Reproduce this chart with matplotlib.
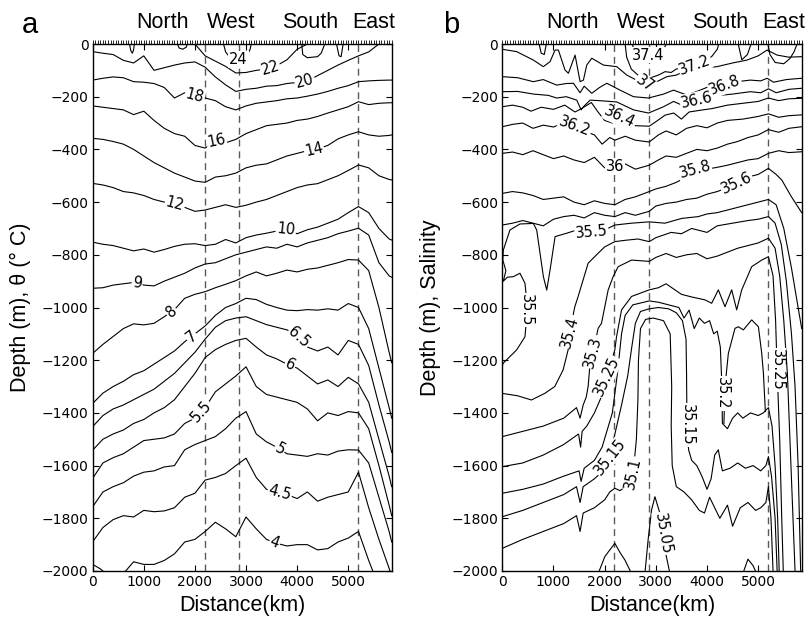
import numpy as np
import matplotlib
matplotlib.use("Agg")
import matplotlib.pyplot as plt
from matplotlib.transforms import blended_transform_factory

plt.rcParams["font.family"] = ["Liberation Sans", "DejaVu Sans"]

nan = np.nan

# ---------------- panel a: potential temperature (depth of each isotherm) ----------------
dist_a = [0, 200, 400, 600, 800, 1000, 1200, 1400, 1600, 1800, 2000, 2200, 2400, 2600, 2800,
          3000, 3200, 3400, 3600, 3800, 4000, 4200, 4400, 4600, 4800, 5000, 5200, 5400, 5600,
          5800, 5850]

theta_22 = [nan, nan, nan, nan, nan, nan, nan, nan, nan, nan, 0, -45, -65, -85, -110, -108, -100,
            -95, -82, -60, -20, 0, nan, nan, nan, nan, nan, nan, nan, nan, nan]
theta_20 = [-29, -35, -40, -62, -72, -45, -100, -90, -80, -72, -68, -88, -125, -155, -180, -172,
            -168, -160, -158, -150, -146, -140, -120, -100, -80, -62, -45, -30, 0, nan, nan]
theta_18 = [-137, -130, -125, -128, -143, -145, -150, -165, -205, -185, -196, -205, -215, -238,
            -250, -235, -225, -220, -215, -208, -205, -198, -190, -180, -168, -158, -143, -140,
            -138, -137, -137]
theta_16 = [-235, -240, -245, -250, -268, -255, -290, -320, -340, -350, -385, -395, -366, -375,
            -362, -340, -325, -310, -305, -300, -290, -285, -275, -262, -250, -238, -219, -230,
            -225, -223, -223]
theta_14 = [-358, -362, -370, -380, -400, -425, -450, -470, -490, -505, -520, -525, -505, -500,
            -490, -470, -460, -455, -440, -425, -415, -405, -398, -385, -360, -345, -333, -345,
            -350, -347, -345]
theta_12 = [-529, -535, -545, -560, -565, -575, -590, -600, -605, -620, -635, -630, -620, -610,
            -620, -612, -600, -590, -575, -560, -545, -535, -530, -515, -500, -480, -459, -470,
            -500, -514, -516]
theta_10 = [-752, -760, -765, -775, -785, -778, -790, -780, -768, -760, -758, -765, -760, -742,
            -755, -735, -725, -718, -710, -705, -720, -705, -695, -680, -665, -640, -617, -640,
            -700, -740, -744]
theta_9 = [-927, -925, -915, -910, -905, -915, -918, -900, -885, -870, -850, -835, -830, -815,
           -800, -790, -780, -770, -775, -760, -770, -755, -745, -735, -720, -710, -699, -725,
           -830, -880, -885]
theta_8 = [-1174, -1140, -1110, -1080, -1062, -1066, -1060, -1035, -1008, -965, -950, -940, -925,
           -912, -898, -880, -865, -880, -870, -858, -865, -855, -850, -840, -830, -818, -820,
           -860, -1000, -1170, -1210]
theta_7 = [-1364, -1325, -1300, -1280, -1255, -1240, -1215, -1190, -1165, -1130, -1100, -1070,
           -1030, -1000, -985, -965, -970, -988, -1000, -1010, -1012, -1008, -1010, -1005, -1010,
           -985, -1000, -1080, -1230, -1380, -1420]
theta_6p5 = [-1452, -1410, -1385, -1370, -1350, -1330, -1310, -1280, -1250, -1210, -1170, -1120,
             -1075, -1050, -1040, -1035, -1050, -1065, -1075, -1085, -1104, -1150, -1165, -1150,
             -1180, -1125, -1140, -1220, -1370, -1510, -1550]
theta_6 = [-1541, -1500, -1480, -1465, -1440, -1425, -1400, -1380, -1350, -1300, -1250, -1190,
           -1160, -1140, -1125, -1117, -1150, -1180, -1195, -1215, -1230, -1260, -1290, -1275,
           -1300, -1265, -1290, -1360, -1500, -1640, -1680]
theta_5p5 = [-1648, -1590, -1570, -1555, -1530, -1505, -1500, -1495, -1480, -1440, -1420, -1380,
             -1320, -1290, -1260, -1225, -1300, -1330, -1340, -1350, -1360, -1385, -1430, -1400,
             -1410, -1395, -1400, -1460, -1600, -1750, -1790]
theta_5 = [-1756, -1700, -1680, -1665, -1640, -1625, -1620, -1605, -1600, -1540, -1520, -1505,
           -1490, -1460, -1420, -1395, -1480, -1510, -1530, -1555, -1560, -1565, -1555, -1560,
           -1545, -1540, -1541, -1590, -1720, -1850, -1890]
theta_4p5 = [-1889, -1835, -1805, -1790, -1795, -1770, -1775, -1772, -1760, -1720, -1705, -1655,
             -1645, -1630, -1600, -1572, -1645, -1690, -1700, -1710, -1725, -1700, -1735, -1720,
             -1710, -1700, -1625, -1760, -1880, -1990, -2020]
theta_4 = [nan, nan, nan, -2010, -1965, -1975, -1975, -1960, -1935, -1890, -1880, -1850, -1815,
           -1840, -1870, -1795, -1840, -1880, -1895, -1905, -1900, -1900, -1920, -1915, -1890,
           -1875, -1850, -1960, -2060, nan, nan]

# isolated pieces of contour touching the surface / the bottom
warm_24_km = [2560, 2600, 2700, 2850, 3000, 3080, 3100]
warm_24_z = [0, -30, -55, -62, -50, -20, 0]
surf_a1_km = [720, 745, 775, 800, 815]
surf_a1_z = [0, -25, -35, -22, 0]
surf_a2_km = [1660, 1690, 1760, 1830, 1850]
surf_a2_z = [0, -15, -20, -12, 0]
surf_a3_km = [4090, 4110, 4200, 4400, 4470, 4540]
surf_a3_z = [0, -40, -52, -48, -35, 0]
surf_a4_km = [4770, 4820, 4860, 4900]
surf_a4_z = [0, -45, -48, 0]
cold_4_km = [0, 150, 260]
cold_4_z = [-1975, -1992, -2010]

# ---------------- panel b: salinity contours (distance, depth) ----------------
s37_4_km = [2540, 2600, 2700, 2850, 3000, 3120, 3200]
s37_4_z = [0, -40, -58, -65, -58, -35, 0]
s37_2_km = [2400, 2430, 2520, 2650, 2870, 3050, 3180, 3300, 3400, 3500, 3650, 3764, 3950, 4090,
            4200, 4230]
s37_2_z = [0, -50, -95, -118, -130, -118, -105, -108, -95, -90, -85, -80, -62, -48, -20, 0]
s37_0_km = [0, 280, 607, 802, 933, 1031, 1096, 1226, 1292, 1422, 1520, 1585, 1650, 1748, 1976,
            2237, 2433, 2650, 2857, 3050, 3216, 3400, 3607, 3900, 4194, 4500, 4781, 5000, 5173,
            5368, 5600, 5850]
s37_0_z = [-20, -29, -61, -86, -67, -23, -23, -99, -111, -42, -143, -137, -80, -54, -80, -86,
           -118, -140, -156, -140, -124, -118, -99, -92, -86, -72, -61, -45, -23, -42, -50, -48]
s36_8_km = [0, 300, 607, 800, 1063, 1250, 1389, 1520, 1600, 1748, 1900, 2042, 2300, 2564, 2857,
            3151, 3346, 3607, 3868, 4194, 4500, 4847, 5050, 5173, 5300, 5550, 5850]
s36_8_z = [-124, -128, -143, -135, -156, -150, -149, -185, -160, -187, -165, -149, -175, -200,
           -205, -190, -175, -194, -175, -149, -145, -137, -140, -130, -145, -135, -130]
s36_6_km = [0, 300, 607, 900, 1063, 1250, 1455, 1540, 1585, 1716, 1900, 2237, 2564, 2857, 3151,
            3346, 3607, 3868, 4194, 4500, 4847, 5050, 5200, 5350, 5600, 5850]
s36_6_z = [-181, -180, -190, -195, -205, -200, -213, -250, -238, -213, -215, -220, -250, -262,
           -238, -218, -240, -213, -196, -190, -181, -185, -170, -185, -172, -168]
s36_4_km = [0, 200, 400, 560, 760, 1000, 1220, 1420, 1550, 1740, 1870, 2000, 2150, 2300, 2450,
            2600, 2870, 3000, 3180, 3350, 3500, 3650, 3850, 4100, 4400, 4700, 5000, 5200, 5400,
            5600, 5850]
s36_4_z = [-238, -232, -240, -255, -240, -248, -232, -258, -245, -222, -258, -290, -300, -276,
           -290, -310, -312, -295, -270, -262, -285, -258, -252, -245, -232, -225, -218, -205,
           -215, -208, -206]
s36_2_km = [0, 200, 400, 600, 800, 1000, 1200, 1416, 1600, 1800, 1950, 2100, 2200, 2400, 2600,
            2870, 3050, 3200, 3400, 3600, 3800, 4000, 4200, 4400, 4700, 5000, 5200, 5400, 5600,
            5850]
s36_2_z = [-314, -305, -300, -320, -308, -315, -300, -314, -330, -345, -380, -355, -365, -350,
           -365, -372, -345, -330, -345, -320, -310, -318, -300, -290, -285, -275, -265, -278,
           -272, -269]
s36_0_km = [0, 200, 400, 600, 800, 1000, 1200, 1400, 1600, 1800, 2000, 2199, 2400, 2600, 2871,
            3050, 3200, 3400, 3600, 3800, 4000, 4200, 4400, 4600, 4800, 5000, 5200, 5400, 5600,
            5850]
s36_0_z = [-415, -410, -420, -405, -420, -435, -425, -440, -450, -430, -470, -466, -455, -475,
           -460, -440, -425, -430, -415, -400, -405, -395, -380, -370, -355, -345, -325, -335,
           -320, -314]
s35_8_km = [0, 200, 400, 600, 800, 1000, 1200, 1400, 1600, 1800, 2000, 2200, 2400, 2600, 2871,
            3000, 3200, 3400, 3600, 3764, 4000, 4200, 4400, 4600, 4800, 5000, 5200, 5400, 5600,
            5850]
s35_8_z = [-567, -560, -565, -575, -590, -585, -580, -600, -610, -595, -605, -610, -590, -580,
           -560, -550, -540, -525, -505, -478, -475, -468, -460, -450, -440, -435, -415, -405,
           -412, -409]
s35_6_km = [0, 200, 400, 600, 800, 1000, 1200, 1400, 1600, 1800, 2000, 2200, 2400, 2600, 2871,
            3000, 3200, 3400, 3600, 3800, 4000, 4200, 4400, 4580, 4800, 5000, 5200, 5350, 5460,
            5650, 5850]
s35_6_z = [-687, -680, -670, -680, -690, -665, -655, -650, -660, -640, -650, -655, -640, -650,
           -635, -615, -605, -600, -590, -585, -570, -560, -545, -529, -505, -495, -472, -495,
           -516, -580, -640]
s35_5_km = [5850, 5780, 5650, 5500, 5350, 5200, 5000, 4800, 4600, 4400, 4200, 4000, 3830, 3504,
            3178, 2871, 2526, 2199, 2069, 1742, 1455, 1259, 1031, 933, 868, 803, 672, 607, 345,
            149, 20, 10, 70, 20, 100, 216, 345, 443, 470, 470, 443, 280, 20, 0]
s35_5_z = [-1080, -1000, -850, -700, -610, -590, -600, -610, -620, -630, -640, -645, -655, -662,
           -680, -675, -680, -687, -699, -712, -706, -718, -731, -858, -934, -883, -706, -681,
           -683, -706, -782, -820, -860, -900, -885, -883, -870, -908, -960, -1050, -1111, -1161,
           -1211, -1220]
s35_4_km = [0, 300, 568, 829, 1025, 1188, 1286, 1318, 1417, 1482, 1677, 1873, 2000, 2199, 2400,
            2650, 2871, 3000, 3300, 3500, 3700, 4000, 4200, 4500, 4800, 5000, 5200, 5330, 5450,
            5550, 5650, 5720, 5780, 5830]
s35_4_z = [-1326, -1335, -1351, -1326, -1300, -1237, -1161, -1092, -997, -958, -832, -794, -770,
           -750, -745, -740, -750, -735, -715, -720, -700, -715, -690, -680, -670, -665, -655,
           -680, -760, -900, -1100, -1300, -1600, -2000]
s35_3_km = [0, 400, 800, 1200, 1450, 1520, 1580, 1640, 1677, 1710, 1775, 1873, 1938, 2069, 2166,
            2264, 2526, 2871, 3000, 3200, 3400, 3600, 3800, 4000, 4200, 4400, 4600, 4800, 5000,
            5200, 5330, 5420, 5500, 5570, 5620, 5680, 5720]
s35_3_z = [-1490, -1470, -1450, -1420, -1380, -1420, -1370, -1340, -1300, -1224, -1168, -1079,
           -1060, -933, -883, -845, -820, -825, -810, -795, -810, -800, -795, -815, -805, -790,
           -775, -765, -755, -737, -775, -880, -1050, -1250, -1500, -1800, -2000]
s35_25_km = [0, 400, 800, 1200, 1490, 1530, 1560, 1650, 1800, 1938, 2036, 2199, 2232, 2330, 2526,
             2871, 3050, 3200, 3350, 3500, 3700, 3960, 4091, 4221, 4351, 4482, 4580, 4678, 4873,
             5069, 5200, 5290, 5340, 5370, 5420, 5460, 5490]
s35_25_z = [-1604, -1590, -1560, -1520, -1480, -1530, -1470, -1450, -1400, -1338, -1262, -1161,
            -1111, -1009, -958, -933, -925, -910, -930, -950, -960, -971, -984, -933, -997, -933,
            -1009, -933, -845, -820, -807, -880, -1050, -1237, -1500, -1800, -2000]
s35_2_km = [0, 400, 800, 1200, 1500, 1540, 1600, 1800, 1950, 2150, 2250, 2330, 2400, 2550, 2871,
            3050, 3250, 3450, 3550, 3650, 3750, 3850, 3950, 4050, 4130, 4200, 4260, 4292, 4300,
            4400, 4500, 4600, 4700, 4850, 5000, 5100, 5200, 5270, 5330, 5380, 5410]
s35_2_z = [-1705, -1690, -1670, -1640, -1620, -1660, -1610, -1580, -1530, -1400, -1250, -1100,
           -1030, -990, -975, -980, -990, -1000, -1040, -1010, -1080, -1040, -1060, -1050, -1100,
           -1090, -1150, -1300, -1440, -1460, -1420, -1400, -1420, -1400, -1410, -1400, -1380,
           -1450, -1600, -1800, -2000]
s35_2_arch_km = [4330, 4351, 4417, 4547, 4612, 4710, 4873, 5004, 5069, 5102, 5140]
s35_2_arch_z = [-1440, -1300, -1174, -1079, -1073, -1085, -1047, -1073, -1174, -1250, -1395]
s35_15_km = [0, 400, 800, 1200, 1450, 1520, 1580, 1800, 2000, 2101, 2200, 2330, 2450, 2530, 2600,
             2700, 2871, 3050, 3250, 3400, 3520, 3590, 3600, 3608, 3640, 3700, 3800, 3900, 4000,
             4080, 4150, 4220, 4300, 4450, 4600, 4750, 4900, 5050, 5150, 5200, 5260, 5330, 5370]
s35_15_z = [-1794, -1770, -1740, -1710, -1680, -1740, -1680, -1650, -1615, -1566, -1480, -1370,
            -1260, -1150, -1060, -1015, -1005, -1000, -1005, -1020, -1050, -1120, -1250, -1446,
            -1540, -1580, -1600, -1640, -1690, -1650, -1560, -1540, -1620, -1610, -1590, -1610,
            -1600, -1620, -1600, -1566, -1640, -1800, -2000]
s35_1_km = [0, 400, 800, 1200, 1450, 1520, 1580, 1800, 2000, 2100, 2199, 2300, 2400, 2480, 2557,
            2620, 2650, 2660, 2700, 2800, 2950, 3150, 3280, 3310, 3300, 3320, 3400, 3550, 3700,
            3850, 3950, 4050, 4150, 4250, 4400, 4500, 4650, 4800, 4950, 5050, 5150, 5200, 5250,
            5290]
s35_1_z = [-1914, -1880, -1850, -1820, -1790, -1850, -1780, -1760, -1730, -1700, -1686, -1695,
           -1680, -1660, -1630, -1500, -1350, -1200, -1080, -1045, -1040, -1050, -1100, -1300,
           -1450, -1600, -1680, -1700, -1730, -1770, -1780, -1720, -1760, -1800, -1750, -1830,
           -1760, -1740, -1770, -1760, -1740, -1680, -1800, -2000]
s35_05_km = [2786, 2850, 2917, 2982, 3080, 3145, 3200, 3276]
s35_05_z = [-2010, -1880, -1768, -1718, -1781, -1857, -1940, -2010]
s35_05b_km = [1873, 2004, 2199, 2300, 2395, 2526]
s35_05b_z = [-2010, -1945, -1895, -1930, -1958, -2010]
bump_b_km = [4700, 4800, 4900, 4970]
bump_b_z = [-2010, -1955, -1980, -2010]
surf_b1_km = [720, 760, 820, 860]
surf_b1_z = [0, -35, -40, 0]
surf_b2_km = [4610, 4680, 4790, 4860]
surf_b2_z = [0, -60, -40, 0]
surf_b3_km = [5190, 5230, 5330, 5500, 5620, 5700, 5760]
surf_b3_z = [0, -40, -70, -75, -55, -30, 0]

stations_km = np.arange(0, 5851, 50)   # CTD station marks along the top
boundary_km = [2190, 2860, 5190]       # corners of the section (dashed)
region_names = ["North", "West", "South", "East"]

# ---------------- figure ----------------
fig = plt.figure(figsize=(8.09, 6.17), dpi=100)
ax_a = fig.add_axes([92.7 / 809, 1 - 571 / 617, 299 / 809, 527 / 617])
ax_b = fig.add_axes([502.3 / 809, 1 - 571 / 617, 299.4 / 809, 527 / 617])

NUM_FONT = ["DejaVu Sans"]


def style_axes(ax, ylabel, letter, letter_x):
    ax.set_xlim(0, 5850)
    ax.set_ylim(-2000, 0)
    ax.set_xticks(range(0, 5001, 1000))
    ax.set_yticks(range(-2000, 1, 200))
    ax.tick_params(direction="in", top=True, right=True, length=4.5, width=0.8,
                   labelsize=10, pad=3)
    for lab in ax.get_xticklabels() + ax.get_yticklabels():
        lab.set_family(NUM_FONT)
    for s in ax.spines.values():
        s.set_linewidth(1.0)
    ax.set_xlabel("Distance(km)", fontsize=15.5)
    ax.xaxis.set_label_coords(0.5, -0.045)
    ax.set_ylabel(ylabel, fontsize=15.5)
    ax.yaxis.set_label_coords(-0.205, 0.5)
    trans = blended_transform_factory(ax.transData, ax.transAxes)
    ax.vlines(stations_km, 1.0, 1.0 + 4.5 / 527, transform=trans, clip_on=False,
              color="black", lw=0.6)
    for name, x in zip(region_names, [1370, 2710, 4250, 5500]):
        ax.text(x, 1.04, name, transform=trans, ha="center", va="center", fontsize=15.5)
    for x in boundary_km:
        ax.axvline(x, color="0.35", lw=1.0, ls=(0, (5, 3.5)), zorder=1)
    fig.text(letter_x / 809, 1 - 33 / 617, letter, fontsize=21, ha="left", va="baseline")


def put_label(ax, text, x, z, rot):
    ax.text(x, z, text, rotation=rot, rotation_mode="anchor", ha="center", va="center",
            fontsize=10.5, family=NUM_FONT, zorder=4,
            bbox=dict(boxstyle="square,pad=0.06", fc="white", ec="none"))


style_axes(ax_a, "Depth (m), θ (° C)", "a", 22)
style_axes(ax_b, "Depth (m), Salinity", "b", 443)

# panel a lines
theta_lines = [theta_22, theta_20, theta_18, theta_16, theta_14, theta_12, theta_10, theta_9,
               theta_8, theta_7, theta_6p5, theta_6, theta_5p5, theta_5, theta_4p5, theta_4]
for z in theta_lines:
    ax_a.plot(dist_a, z, color="black", lw=0.8, zorder=2)
for xs, zs in [(warm_24_km, warm_24_z), (surf_a1_km, surf_a1_z), (surf_a2_km, surf_a2_z),
               (surf_a3_km, surf_a3_z), (surf_a4_km, surf_a4_z), (cold_4_km, cold_4_z)]:
    ax_a.plot(xs, zs, color="black", lw=0.8, zorder=2)


def inline_label(ax, text, zs, x0):
    xs = np.asarray(dist_a, float)
    zs = np.asarray(zs, float)
    ok = ~np.isnan(zs)
    z0 = np.interp(x0, xs[ok], zs[ok])
    p1 = ax.transData.transform((x0 - 180, np.interp(x0 - 180, xs[ok], zs[ok])))
    p2 = ax.transData.transform((x0 + 180, np.interp(x0 + 180, xs[ok], zs[ok])))
    ang = np.degrees(np.arctan2(p2[1] - p1[1], p2[0] - p1[0]))
    put_label(ax, text, x0, z0, ang)


for text, zs, x0 in [("22", theta_22, 3470), ("20", theta_20, 4150), ("18", theta_18, 2000),
                     ("16", theta_16, 2420), ("14", theta_14, 4330), ("12", theta_12, 1610),
                     ("10", theta_10, 3780), ("9", theta_9, 870), ("8", theta_8, 1540),
                     ("7", theta_7, 1931), ("6.5", theta_6p5, 4040), ("6", theta_6, 3860),
                     ("5.5", theta_5p5, 2127), ("5", theta_5, 3660), ("4.5", theta_4p5, 3660),
                     ("4", theta_4, 3560)]:
    inline_label(ax_a, text, zs, x0)
put_label(ax_a, "24", 2850, -58, 0)

# panel b lines
sal_lines = [(s37_4_km, s37_4_z), (s37_2_km, s37_2_z), (s37_0_km, s37_0_z),
             (s36_8_km, s36_8_z), (s36_6_km, s36_6_z), (s36_4_km, s36_4_z),
             (s36_2_km, s36_2_z), (s36_0_km, s36_0_z), (s35_8_km, s35_8_z),
             (s35_6_km, s35_6_z), (s35_5_km, s35_5_z), (s35_4_km, s35_4_z),
             (s35_3_km, s35_3_z), (s35_25_km, s35_25_z), (s35_2_km, s35_2_z),
             (s35_2_arch_km, s35_2_arch_z), (s35_15_km, s35_15_z), (s35_1_km, s35_1_z),
             (s35_05_km, s35_05_z), (s35_05b_km, s35_05b_z), (bump_b_km, bump_b_z),
             (surf_b1_km, surf_b1_z), (surf_b2_km, surf_b2_z), (surf_b3_km, surf_b3_z)]
for xs, zs in sal_lines:
    ax_b.plot(xs, zs, color="black", lw=0.8, zorder=2)

for text, x, z, rot in [("37.4", 2850, -42, 0), ("37.2", 3764, -80, 20), ("37", 2786, -149, -35),
                        ("36.8", 4351, -158, 20), ("36.6", 3797, -213, 12),
                        ("36.4", 2297, -278, -25), ("36.2", 1416, -314, -20),
                        ("36", 2199, -466, 0), ("35.8", 3764, -478, 15), ("35.6", 4580, -529, 25),
                        ("35.5", 1742, -712, 5), ("35.5", 470, -1009, -90),
                        ("35.4", 1318, -1092, 75), ("35.3", 1775, -1168, 75),
                        ("35.25", 2036, -1262, 65), ("35.15", 2101, -1566, 52),
                        ("35.1", 2557, -1630, 78), ("35.05", 3145, -1857, -80),
                        ("35.15", 3608, -1446, -90), ("35.2", 4292, -1326, -90),
                        ("35.25", 5370, -1237, -90)]:
    put_label(ax_b, text, x, z, rot)

fig.savefig("out.png", dpi=100)
